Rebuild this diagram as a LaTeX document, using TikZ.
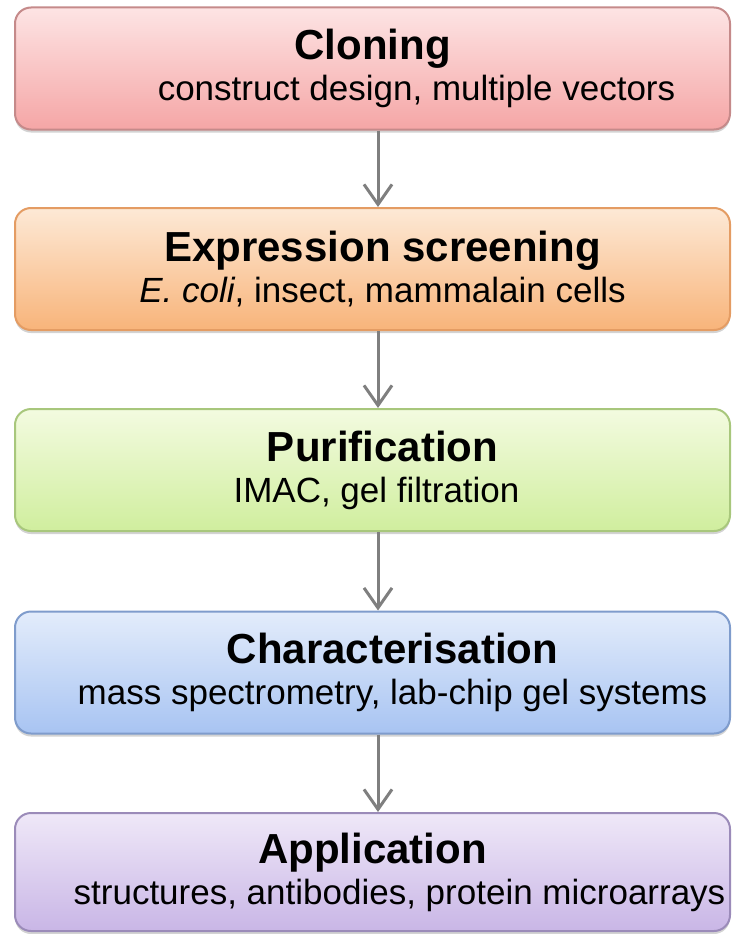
\documentclass[tikz,border=0pt]{standalone}
\usepackage{fontspec}
\setmainfont{Liberation Sans}
\usetikzlibrary{arrows.meta,shadows}

\definecolor{clontop}{HTML}{FDE4E4}
\definecolor{clonbot}{HTML}{F5A6A6}
\definecolor{clonedge}{HTML}{C58A8A}
\definecolor{exprtop}{HTML}{FDE9D6}
\definecolor{exprbot}{HTML}{F8B47A}
\definecolor{expredge}{HTML}{E49C63}
\definecolor{puritop}{HTML}{F3FBE0}
\definecolor{puribot}{HTML}{D0EE9E}
\definecolor{puriedge}{HTML}{A8C77C}
\definecolor{chartop}{HTML}{E3ECFB}
\definecolor{charbot}{HTML}{A8C4F2}
\definecolor{charedge}{HTML}{7F9CCC}
\definecolor{appltop}{HTML}{EFE8F8}
\definecolor{applbot}{HTML}{C9B6E6}
\definecolor{appledge}{HTML}{9B8BB9}
\definecolor{arrowgray}{HTML}{7F7F7F}

\newcommand{\stagetitle}[1]{{\bfseries\fontsize{42}{41}\selectfont #1}}

\begin{document}
\begin{tikzpicture}[x=1pt,y=-1pt,
  stagebox/.style={draw, line width=2pt, rounded corners=16pt,
    minimum width=715pt, minimum height=122pt, align=center,
    font=\fontsize{35}{41}\selectfont,
    drop shadow={shadow xshift=0pt, shadow yshift=-3pt, opacity=0.35}},
  flowarrow/.style={draw=arrowgray, line width=3pt,
    -{Straight Barb[length=20pt, width=28pt, line width=3pt]}}]
\useasboundingbox (0,0) rectangle (732,934);

\node[stagebox, draw=clonedge, top color=clontop, bottom color=clonbot] (clon) at (372.5,68.5)
  {\stagetitle{Cloning}\\\hspace*{88pt}construct design, multiple vectors};
\node[stagebox, draw=expredge, top color=exprtop, bottom color=exprbot] (expr) at (372.5,269)
  {\hspace*{20pt}\stagetitle{Expression screening}\\\hspace*{20pt}\textit{E. coli}, insect, mammalain cells};
\node[stagebox, draw=puriedge, top color=puritop, bottom color=puribot] (puri) at (372.5,470)
  {\hspace*{20pt}\stagetitle{Purification}\\\hspace*{8pt}IMAC, gel filtration};
\node[stagebox, draw=charedge, top color=chartop, bottom color=charbot] (char) at (372.5,672.5)
  {\hspace*{40pt}\stagetitle{Characterisation}\\\hspace*{40pt}mass spectrometry, lab-chip gel systems};
\node[stagebox, draw=appledge, top color=appltop, bottom color=applbot, minimum height=118pt] (appl) at (372.5,872)
  {\stagetitle{Application}\\\hspace*{54pt}structures, antibodies, protein microarrays};

\draw[flowarrow] ([xshift=5.5pt]clon.south) -- ([xshift=5.5pt]expr.north);
\draw[flowarrow] ([xshift=5.5pt]expr.south) -- ([xshift=5.5pt]puri.north);
\draw[flowarrow] ([xshift=5.5pt]puri.south) -- ([xshift=5.5pt]char.north);
\draw[flowarrow] ([xshift=5.5pt]char.south) -- ([xshift=5.5pt]appl.north);
\end{tikzpicture}
\end{document}
